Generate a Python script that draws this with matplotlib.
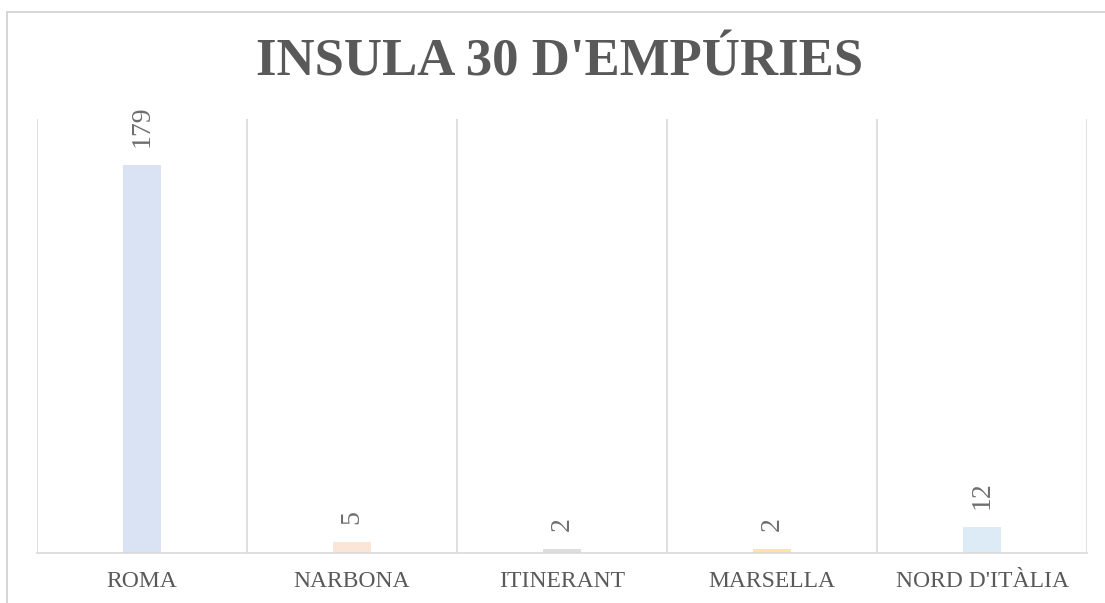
import matplotlib
matplotlib.use("Agg")
import matplotlib.pyplot as plt
from matplotlib.patches import Rectangle

categories = ["ROMA", "NARBONA", "ITINERANT", "MARSELLA", "NORD D'ITÀLIA"]
values = [179, 5, 2, 2, 12]
colors = ["#DAE3F3", "#FBE5D6", "#DEDEDE", "#FFE699", "#DDEBF7"]
title = "INSULA 30 D'EMPÚRIES"

W, H = 1105, 603
fig = plt.figure(figsize=(W / 100, H / 100), dpi=100)
fig.patch.set_facecolor("white")

# outer chart border (cropped at right/bottom)
fig.patches.append(Rectangle((7 / W, -0.1), 1.2, 1 - 12 / H + 0.1,
                             transform=fig.transFigure, fill=False,
                             edgecolor="#D0D0D0", linewidth=1.2))

left, right, top, bottom = 37, 1087, 119, 553
ax = fig.add_axes([left / W, 1 - bottom / H, (right - left) / W, (bottom - top) / H])
ax.set_xlim(-0.5, len(categories) - 0.5)
ax.set_ylim(0, 200)

x = list(range(len(categories)))
ax.bar(x, values, width=0.18, color=colors, zorder=2)

for xi, v in zip(x, values):
    ax.annotate(str(v), (xi, v), xytext=(0, 13), textcoords="offset points",
                rotation=90, ha="center", va="bottom", fontsize=20,
                color="#6E6E6E", family="Liberation Serif")

for b in [i - 0.5 for i in range(len(categories) + 1)]:
    ax.axvline(b, color="#D9D9D9", linewidth=1.2, zorder=1)

for s in ["top", "right", "left"]:
    ax.spines[s].set_visible(False)
ax.spines["bottom"].set_color("#D9D9D9")
ax.spines["bottom"].set_linewidth(1.2)
ax.set_yticks([])
ax.set_xticks(x)
ax.set_xticklabels(categories, fontsize=17, color="#595959", family="Liberation Serif")
ax.tick_params(axis="x", length=0, pad=13)

fig.text(560 / W, 1 - 62 / H, title, ha="center", va="center", fontsize=38,
         fontweight="bold", color="#595959", family="Liberation Serif")

fig.savefig("out.png", dpi=100)
